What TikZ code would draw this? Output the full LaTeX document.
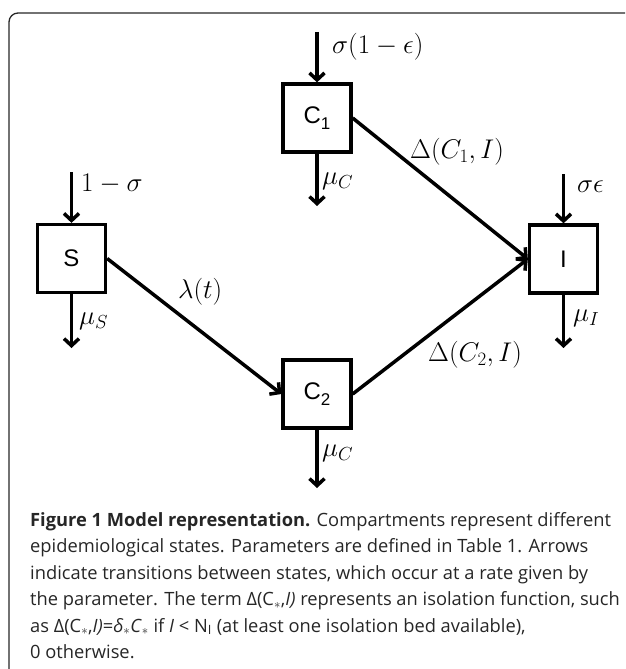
\RequirePackage{fix-cm}
\documentclass[tikz,border=0pt]{standalone}
\usepackage{fontspec}
\setsansfont{Liberation Sans}
\newfontfamily\capfont{Open Sans}
\usetikzlibrary{arrows.meta}
\tikzset{
  box/.style={draw, line width=3.3pt, minimum size=68pt, inner sep=0pt,
    font=\sffamily\fontsize{24}{24}\selectfont},
  flow/.style={line width=3.5pt, -{Straight Barb[length=7pt,width=15pt]}},
  lab/.style={inner sep=0pt, font=\fontsize{27}{27}\selectfont},
  capline/.style={anchor=base west, inner sep=0pt,
    font=\capfont\fontsize{18.3}{22}\selectfont, text=black!85},
  frame/.style={line width=1.3pt, black!85, rounded corners=9pt}
}
\newcommand{\subone}[1]{\raisebox{-6pt}{\fontsize{17}{17}\selectfont #1}}
\begin{document}
\begin{tikzpicture}[x=1pt,y=-1pt]
\useasboundingbox (0,0) rectangle (625,669);
\clip (0,0) rectangle (625,669);
\draw[frame] (9,700) -- (9,13) -- (660,13);

% boxes
\node[box] (S)  at (71.5,258.5) {S};
\node[box] (C1) at (317,118) {C\subone{1}};
\node[box] (C2) at (317,394) {C\subone{2}};
\node[box] (I)  at (563.5,259) {I};

% free ends
\coordinate (Sin)   at (71.5,172);
\coordinate (Sout)  at (71.5,348);
\coordinate (C1in)  at (317,32);
\coordinate (C1out) at (317,206);
\coordinate (C2out) at (317,488);
\coordinate (Iin)   at (563.5,174);
\coordinate (Iout)  at (563.5,348);

\draw[flow] (Sin) -- (S.north);
\draw[flow] (S.south) -- (Sout);
\draw[flow] (C1in) -- (C1.north);
\draw[flow] (C1.south) -- (C1out);
\draw[flow] (C2.south) -- (C2out);
\draw[flow] (Iin) -- (I.north);
\draw[flow] (I.south) -- (Iout);
\draw[flow] (S.east) -- (C2.west);
\draw[flow] (C1.east) -- (I.west);
\draw[flow] (C2.east) -- (I.west);

% labels
\node[lab, anchor=west] (lC1in) at (332,47) {$\sigma(1-\epsilon)$};
\node[lab, anchor=west] (lSin)  at (81,184) {$1-\sigma$};
\node[lab, anchor=west] (lIin)  at (577,187) {$\sigma\epsilon$};
\node[lab, anchor=west] (lSout) at (79,321) {$\mu_S$};
\node[lab, anchor=west] (lC1o)  at (322,181) {$\mu_C$};
\node[lab, anchor=west] (lC2o)  at (322,453) {$\mu_C$};
\node[lab, anchor=west] (lIo)   at (573,318) {$\mu_I$};
\node[lab, anchor=west] (lD1)   at (410,152) {$\Delta(C_1,I)$};
\node[lab, anchor=west] (lD2)   at (428,355) {$\Delta(C_2,I)$};
\node[lab, anchor=west] (lL)    at (178,292) {$\lambda(t)$};

% caption
\node[capline] (c1) at (30,526) {\textbf{Figure 1 Model representation.} Compartments represent different};
\node[capline] (c2) at (30,552.5) {epidemiological states. Parameters are defined in Table 1. Arrows};
\node[capline] (c3) at (30,579) {indicate transitions between states, which occur at a rate given by};
\node[capline] (c4) at (30,605.5) {the parameter. The term Δ(C$_*$,\textit{I)} represents an isolation function, such};
\node[capline] (c5) at (30,632) {as Δ(C$_*$,\textit{I)}=\textit{δ}$_*$\textit{C}$_*$ if \textit{I} < N\textsubscript{I} (at least one isolation bed available),};
\node[capline] (c6) at (30,658) {0 otherwise.};
\end{tikzpicture}
\end{document}
